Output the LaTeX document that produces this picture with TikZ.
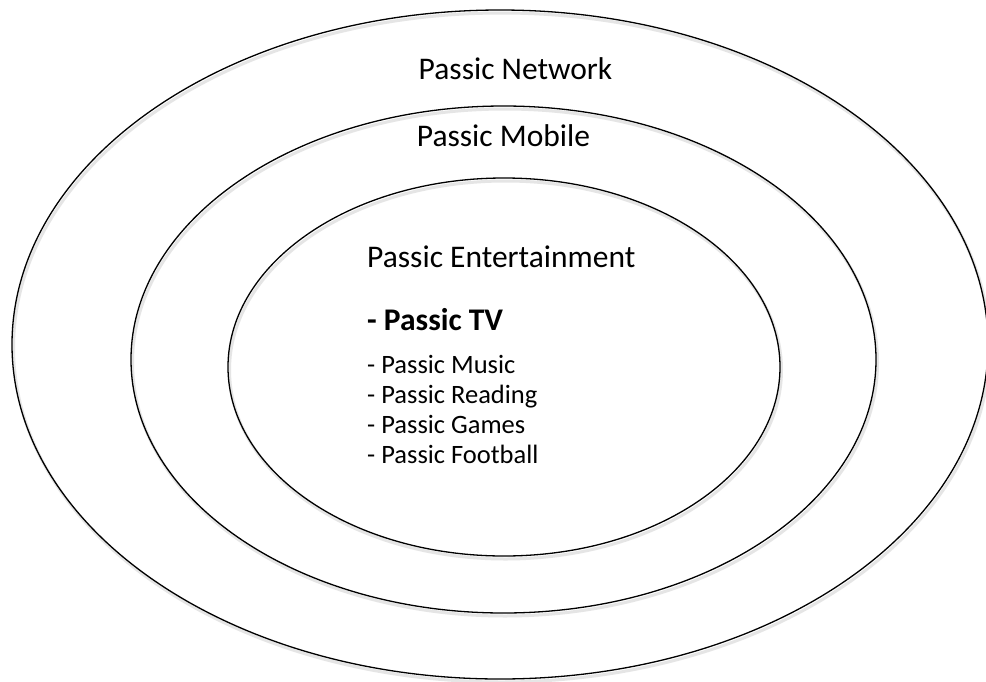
\documentclass[tikz,border=0pt]{standalone}
\usepackage{fontspec}
\setmainfont{Carlito}
\tikzset{
  ring/.style={draw=black, line width=1.3pt},
  ringshadow/.style={draw=black!45, line width=3pt, opacity=0.22},
  biglabel/.style={inner sep=0pt, font=\fontsize{31.5}{37}\selectfont},
  itemlabel/.style={inner sep=0pt, anchor=base west, font=\fontsize{26.5}{31}\selectfont},
  boldlabel/.style={inner sep=0pt, anchor=base west, font=\fontsize{31.5}{37}\selectfont\bfseries},
}
\begin{document}
\begin{tikzpicture}[x=1pt,y=-1pt]
\useasboundingbox (0,0) rectangle (986,681);
\fill[white] (0,0) rectangle (986,681);
% shadows
\draw[ringshadow] (501.5,347.5) ellipse [x radius=488pt, y radius=334.5pt];
\draw[ringshadow] (505,362.5) ellipse [x radius=372.5pt, y radius=253.5pt];
\draw[ringshadow] (505.5,370) ellipse [x radius=276pt, y radius=189pt];
% rings
\draw[ring] (500,344.5) ellipse [x radius=488pt, y radius=334.5pt];
\draw[ring] (503.5,359.5) ellipse [x radius=372.5pt, y radius=253.5pt];
\draw[ring] (504,367) ellipse [x radius=276pt, y radius=189pt];
% labels
\node[biglabel, anchor=base] (net) at (515.5,79) {Passic Network};
\node[biglabel, anchor=base] (mob) at (503.5,146) {Passic Mobile};
\node[biglabel, anchor=base west] (ent) at (367,267) {Passic Entertainment};
\node[boldlabel] (tv) at (367,330) {- Passic TV};
\node[itemlabel] (music) at (367,373) {- Passic Music};
\node[itemlabel] (reading) at (367,403) {- Passic Reading};
\node[itemlabel] (games) at (367,433) {- Passic Games};
\node[itemlabel] (football) at (367,463) {- Passic Football};
\end{tikzpicture}
\end{document}
